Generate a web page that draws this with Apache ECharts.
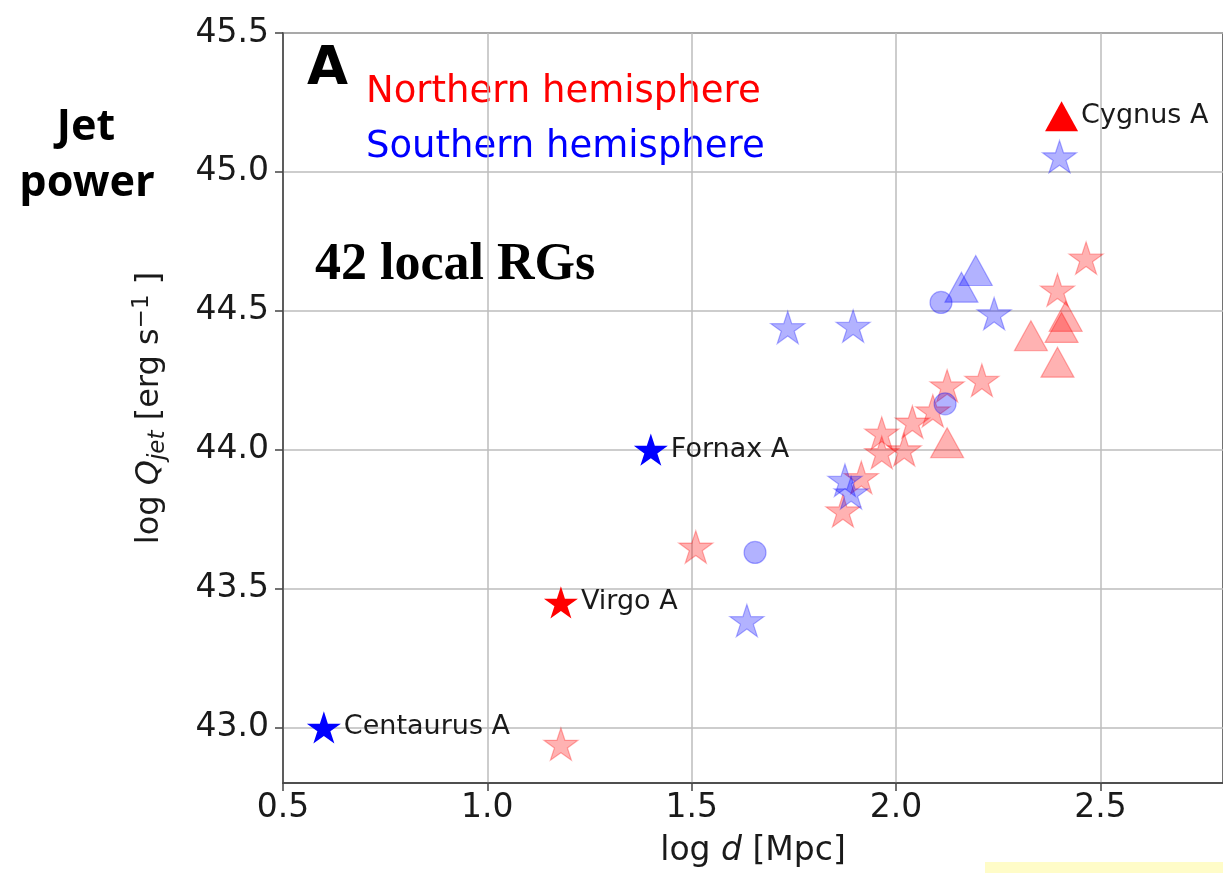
<!DOCTYPE html>
<html>
<head>
<meta charset="utf-8">
<script src="https://cdn.jsdelivr.net/npm/echarts@6/dist/echarts.min.js"></script>
<style>
  html, body { margin: 0; padding: 0; background: #ffffff; }
  #chart { width: 1223px; height: 873px; }
</style>
</head>
<body>
<div id="chart"></div>
<script>
// Axis ticks: log d [Mpc] and log Qjet [erg s^-1]
const xTicks = [0.5, 1.0, 1.5, 2.0, 2.5];
const yTicks = [43.0, 43.5, 44.0, 44.5, 45.0, 45.5];

// Northern hemisphere radio galaxies [log d, log Qjet]
const northStars = [
  [1.18, 42.94], [1.51, 43.65], [1.87, 43.78], [1.915, 43.90],
  [1.965, 44.06], [1.965, 43.99], [2.02, 44.00], [2.04, 44.10],
  [2.09, 44.14], [2.125, 44.23], [2.21, 44.25], [2.395, 44.575],
  [2.465, 44.69]
];
const northTriangles = [
  [2.125, 44.025], [2.33, 44.41], [2.405, 44.44], [2.415, 44.48], [2.395, 44.315]
];

// Southern hemisphere radio galaxies
const southStars = [
  [2.40, 45.055], [1.735, 44.44], [1.895, 44.445], [2.24, 44.49],
  [1.875, 43.89], [1.89, 43.845], [1.635, 43.385]
];
const southTriangles = [[2.195, 44.645], [2.16, 44.585]];
const southCircles = [[2.11, 44.53], [2.12, 44.165], [1.655, 43.63]];

// Well-known sources, drawn opaque and labelled
const northNamedLabels = ['Cygnus A', 'Virgo A'];
const northNamedPoints = [[2.405, 45.20], [1.18, 43.45]];
const northNamedShapes = ['triangle', 'star'];
const southNamedLabels = ['Fornax A', 'Centaurus A'];
const southNamedPoints = [[1.40, 44.00], [0.60, 43.00]];
const southNamedShapes = ['star', 'star'];

// Five-pointed star outline (inner/outer radius ratio as in matplotlib '*')
function starSymbol() {
  const pts = [];
  for (let i = 0; i < 10; i++) {
    const r = i % 2 ? 0.381966 : 1;
    const a = (-90 + i * 36) * Math.PI / 180;
    pts.push((r * Math.cos(a)).toFixed(4) + ' ' + (r * Math.sin(a)).toFixed(4));
  }
  return 'path://M' + pts.join(' L') + ' Z';
}
const STAR = starSymbol();
const SIZES = { star: 34, triangle: [33, 30], circle: 22 };
const SYMBOLS = { star: STAR, triangle: 'triangle', circle: 'circle' };

const RED_LIGHT = 'rgba(255,0,0,0.30)';
const BLUE_LIGHT = 'rgba(0,0,255,0.30)';
const RED = '#ff0000';
const BLUE = '#0000ff';

function cloud(points, shape, color) {
  return {
    type: 'scatter',
    data: points,
    symbol: SYMBOLS[shape],
    symbolSize: SIZES[shape],
    symbolKeepAspect: shape === 'star',
    itemStyle: { color: color, borderColor: color, borderWidth: 1.2, opacity: 1 },
    emphasis: { disabled: true },
    silent: true
  };
}

function named(points, labels, shapes, color) {
  return {
    type: 'scatter',
    data: points.map((p, i) => ({
      name: labels[i],
      value: p,
      symbol: SYMBOLS[shapes[i]],
      symbolSize: SIZES[shapes[i]],
      symbolKeepAspect: shapes[i] === 'star'
    })),
    itemStyle: { color: color, opacity: 1 },
    label: {
      show: true,
      position: 'right',
      distance: 3,
      formatter: '{b}',
      fontFamily: 'DejaVu Sans',
      fontSize: 27,
      color: '#1a1a1a'
    },
    emphasis: { disabled: true },
    silent: true
  };
}

const axisFont = { fontFamily: 'DejaVu Sans', fontSize: 33, color: '#1a1a1a' };
const spine = { show: true, lineStyle: { color: '#444444', width: 1.5 } };
const grid = { show: true, lineStyle: { color: '#bdbdbd', width: 1.5 } };
const tick = { show: true, inside: false, length: 8, lineStyle: { color: '#444444', width: 1.5 } };

const chart = echarts.init(document.getElementById('chart'), null, { renderer: 'canvas' });
chart.setOption({
  animation: false,
  backgroundColor: '#ffffff',
  grid: {
    left: 283, top: 33, right: -2, bottom: 89,
    containLabel: false,
    show: true, borderColor: '#444444', borderWidth: 1.5, backgroundColor: 'transparent'
  },
  xAxis: {
    type: 'value', min: 0.5, max: 2.8,
    axisLine: spine, axisTick: Object.assign({ customValues: xTicks }, tick),
    splitLine: grid,
    axisLabel: Object.assign({ customValues: xTicks, margin: 9, formatter: v => v.toFixed(1) }, axisFont),
    name: '{t|log }{i|d}{t| [Mpc]}',
    nameLocation: 'middle', nameGap: 52,
    nameTextStyle: {
      rich: {
        t: { fontFamily: 'DejaVu Sans', fontSize: 33, color: '#1a1a1a' },
        i: { fontFamily: 'DejaVu Sans', fontSize: 33, fontStyle: 'italic', color: '#1a1a1a' }
      }
    }
  },
  yAxis: {
    type: 'value', min: 42.8, max: 45.5,
    axisLine: spine, axisTick: Object.assign({ customValues: yTicks }, tick),
    splitLine: grid,
    axisLabel: Object.assign({ customValues: yTicks, margin: 14, formatter: v => v.toFixed(1) }, axisFont),
    name: '{t|log }{q|Q}{s|jet}{t| [erg s}{p|\u22121}{t| ]}',
    nameLocation: 'middle', nameRotate: 90, nameGap: 110,
    nameTextStyle: {
      rich: {
        t: { fontFamily: 'DejaVu Sans', fontSize: 32, lineHeight: 46, verticalAlign: 'middle', color: '#1a1a1a' },
        q: { fontFamily: 'DejaVu Sans', fontSize: 32, lineHeight: 46, verticalAlign: 'middle', fontStyle: 'italic', color: '#1a1a1a' },
        s: { fontFamily: 'DejaVu Sans', fontSize: 23, lineHeight: 22, padding: [16, 0, 0, 0], verticalAlign: 'middle', fontStyle: 'italic', color: '#1a1a1a' },
        p: { fontFamily: 'DejaVu Sans', fontSize: 23, lineHeight: 22, padding: [0, 0, 16, 0], verticalAlign: 'middle', color: '#1a1a1a' }
      }
    }
  },
  series: [
    cloud(northStars, 'star', RED_LIGHT),
    cloud(northTriangles, 'triangle', RED_LIGHT),
    cloud(southStars, 'star', BLUE_LIGHT),
    cloud(southTriangles, 'triangle', BLUE_LIGHT),
    cloud(southCircles, 'circle', BLUE_LIGHT),
    named(northNamedPoints, northNamedLabels, northNamedShapes, RED),
    named(southNamedPoints, southNamedLabels, southNamedShapes, BLUE)
  ],
  graphic: [
    { type: 'text', x: 307, y: 70, style: { text: 'A', font: 'bold 53px "DejaVu Sans"', fill: '#000000', align: 'left', verticalAlign: 'middle' } },
    { type: 'text', x: 366, y: 92, style: { text: 'Northern hemisphere', font: '37px "DejaVu Sans"', fill: RED, align: 'left', verticalAlign: 'middle' } },
    { type: 'text', x: 366, y: 147, style: { text: 'Southern hemisphere', font: '37px "DejaVu Sans"', fill: BLUE, align: 'left', verticalAlign: 'middle' } },
    { type: 'text', x: 315, y: 266, style: { text: '42 local RGs', font: 'bold 52px "Liberation Serif", "Times New Roman", serif', fill: '#000000', align: 'left', verticalAlign: 'middle' } },
    { type: 'text', x: 86, y: 128, style: { text: 'Jet', font: 'bold 43px "Noto Sans", "Open Sans", sans-serif', fill: '#000000', align: 'center', verticalAlign: 'middle' } },
    { type: 'text', x: 87, y: 184, style: { text: 'power', font: 'bold 43px "Noto Sans", "Open Sans", sans-serif', fill: '#000000', align: 'center', verticalAlign: 'middle' } },
    { type: 'rect', shape: { x: 985, y: 862, width: 238, height: 11 }, style: { fill: '#fffcc8' }, silent: true }
  ]
});
</script>
</body>
</html>
